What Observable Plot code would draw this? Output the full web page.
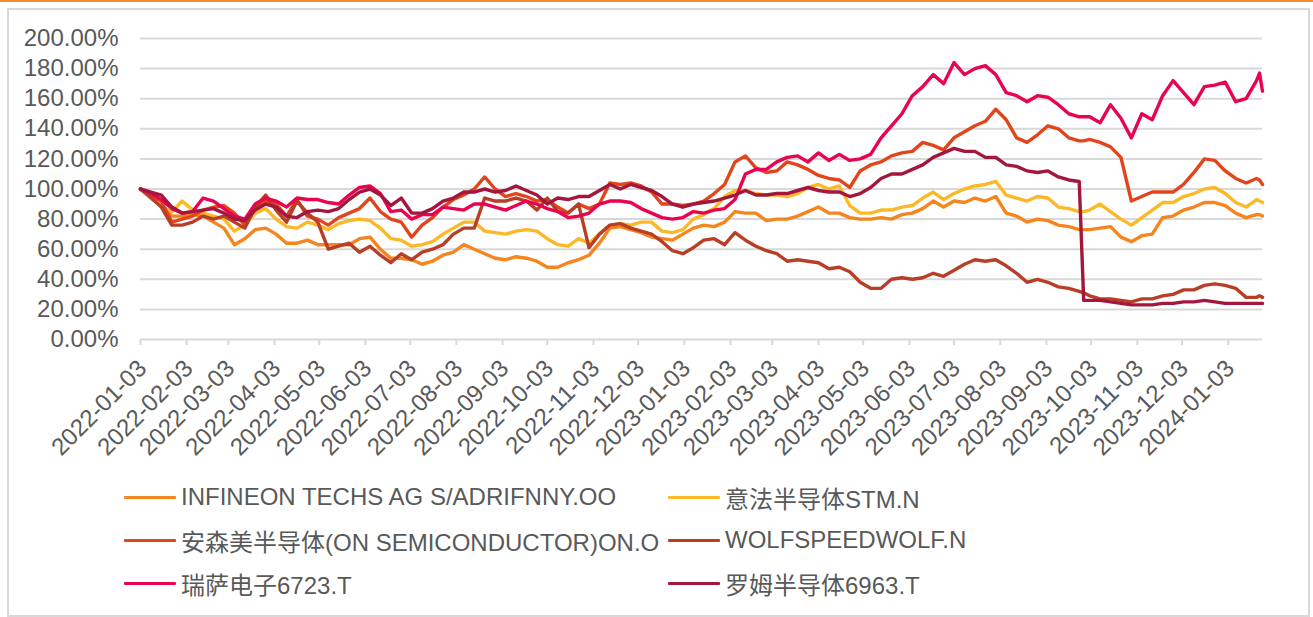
<!DOCTYPE html>
<html>
<head>
<meta charset="utf-8">
<script src="https://cdn.jsdelivr.net/npm/d3@7"></script>
<script src="https://cdn.jsdelivr.net/npm/@observablehq/plot@0.6"></script>
<style>
  html, body { margin: 0; padding: 0; background: #fff; }
  #wrap { position: relative; width: 1313px; height: 617px; overflow: hidden; background: #fff;
          font-family: "Liberation Sans", Arial, "Noto Sans CJK SC", sans-serif; }
  #topline { position: absolute; left: 0; top: 0; width: 1313px; height: 2px; background: #F08C2C; }
  #frame { position: absolute; left: 7px; top: 8px; width: 1299px; height: 605px; border: 2px solid #D9D9D9; box-sizing: content-box; }
  #chart { position: absolute; left: 0; top: 0; }
  .leg { position: absolute; height: 30px; display: flex; align-items: center; font-size: 24px; color: #595959; white-space: nowrap; }
  .leg .sw { width: 52px; height: 3px; margin-right: 5px; border-radius: 1px; }
</style>
</head>
<body>
<div id="wrap">
  <div id="topline"></div>
  <div id="frame"></div>
  <div id="chart"></div>
  <div id="legend"></div>
</div>
<script>
// ---- data ----
const seriesNames = [
  "INFINEON TECHS AG S/ADRIFNNY.OO",
  "意法半导体STM.N",
  "安森美半导体(ON SEMICONDUCTOR)ON.O",
  "WOLFSPEEDWOLF.N",
  "瑞萨电子6723.T",
  "罗姆半导体6963.T"
];
const seriesColors = ["#F5851F", "#FDB827", "#E2451C", "#B83E27", "#E8044F", "#A3173D"];

const dates = [
  "2022-01-03","2022-01-10","2022-01-17","2022-01-24","2022-01-31","2022-02-07","2022-02-14","2022-02-21","2022-02-28","2022-03-07","2022-03-14","2022-03-21","2022-03-28","2022-04-04","2022-04-11","2022-04-18","2022-04-25","2022-05-02",
  "2022-05-09","2022-05-16","2022-05-23","2022-05-30","2022-06-06","2022-06-13","2022-06-20","2022-06-27","2022-07-04","2022-07-11","2022-07-18","2022-07-25","2022-08-01","2022-08-08","2022-08-15","2022-08-22","2022-08-29","2022-09-05",
  "2022-09-12","2022-09-19","2022-09-26","2022-10-03","2022-10-10","2022-10-17","2022-10-24","2022-10-31","2022-11-07","2022-11-14","2022-11-21","2022-11-28","2022-12-05","2022-12-12","2022-12-19","2022-12-26","2023-01-02","2023-01-09",
  "2023-01-16","2023-01-23","2023-01-30","2023-02-06","2023-02-13","2023-02-20","2023-02-27","2023-03-06","2023-03-13","2023-03-20","2023-03-27","2023-04-03","2023-04-10","2023-04-17","2023-04-24","2023-05-01","2023-05-08","2023-05-15",
  "2023-05-22","2023-05-29","2023-06-05","2023-06-12","2023-06-19","2023-06-26","2023-07-03","2023-07-10","2023-07-17","2023-07-24","2023-07-31","2023-08-07","2023-08-14","2023-08-21","2023-08-28","2023-09-04","2023-09-11","2023-09-18","2023-09-25",
  "2023-09-28",
  "2023-10-02","2023-10-09","2023-10-16","2023-10-23","2023-10-30","2023-11-06","2023-11-13","2023-11-20","2023-11-27","2023-12-04","2023-12-11","2023-12-18","2023-12-25","2024-01-01","2024-01-08","2024-01-15","2024-01-22",
  "2024-01-24","2024-01-26"
];

const infineon = [
  100,95,90,82,82,83,82,78,74,63,67,73,74,70,64,64,66,63,
  63,63,63,67,68,60,54,54,53,50,52,56,58,63,60,57,54,53,
  55,54,52,48,48,51,53,56,64,74,75,73,71,68,67,66,70,74,
  76,75,78,85,84,84,79,80,80,82,85,88,84,84,81,80,80,81,
  80,83,84,87,92,88,92,91,94,92,95,84,82,78,80,79,76,75,73,
  73,
  73,74,75,68,65,69,70,81,82,86,88,91,91,89,84,81,83,
  83,82
];
const stm = [
  100,97,88,85,92,86,84,82,80,72,76,84,87,80,75,74,78,76,
  73,77,79,80,79,74,67,66,62,63,65,70,74,78,78,72,71,70,
  72,73,72,67,63,62,67,64,70,76,77,76,78,78,72,71,73,80,
  83,87,95,99,99,97,96,96,95,97,101,103,100,102,89,84,84,86,
  86,88,89,94,98,93,97,100,102,103,105,96,94,92,95,94,88,87,85,
  85,
  86,90,85,80,76,81,86,91,91,95,97,100,101,97,91,88,93,
  92,91
];
const onsemi = [
  100,95,92,78,80,82,86,88,89,84,76,88,92,90,82,93,82,80,
  76,81,84,87,94,85,80,78,68,76,81,88,93,96,100,108,100,95,
  97,95,92,93,88,84,90,87,90,104,103,104,102,98,90,90,89,90,
  92,97,103,118,122,114,111,112,118,116,113,109,107,106,101,112,116,118,
  122,124,125,131,129,126,134,138,142,145,153,146,134,131,136,142,140,134,132,
  132,
  133,131,128,121,92,95,98,98,98,103,111,120,119,112,107,104,107,
  106,103
];
const wolfspeed = [
  100,94,88,76,76,78,82,80,82,78,74,88,96,86,78,92,84,78,
  60,62,64,58,62,56,51,57,53,58,60,63,70,74,74,94,92,92,
  94,92,86,94,85,84,90,61,70,76,77,74,72,70,65,59,57,61,
  66,67,63,71,66,62,59,57,52,53,52,51,47,48,45,38,34,34,
  40,41,40,41,44,42,46,50,53,52,53,49,44,38,40,38,35,34,32,
  31,
  29,27,27,26,25,27,27,29,30,33,33,36,37,36,34,28,28,
  29,28
];
const renesas = [
  100,97,93,87,84,85,94,92,87,82,80,90,94,92,88,94,93,93,
  91,90,96,101,102,97,85,86,80,83,83,88,87,86,90,90,88,86,
  89,92,90,87,85,81,82,84,90,92,92,91,87,84,81,80,81,85,
  84,86,87,93,110,113,113,118,121,122,118,124,119,123,119,120,123,134,
  142,150,162,168,176,170,184,176,180,182,176,164,162,158,162,161,156,150,148,
  148,
  148,144,156,147,134,150,146,162,172,164,156,168,169,171,158,160,172,
  177,165
];
const rohm = [
  100,98,96,88,84,85,86,87,84,80,79,86,90,88,82,81,85,86,
  85,87,93,98,100,96,89,94,84,84,87,92,94,98,98,100,98,99,
  102,99,96,90,94,93,95,95,99,103,100,103,101,99,95,90,88,90,
  91,92,94,96,99,96,96,97,97,99,101,99,98,98,95,97,101,107,
  110,110,113,116,121,124,127,125,125,121,121,116,115,112,111,112,108,106,105,
  26,
  26,26,25,24,23,23,23,24,24,25,25,26,25,24,24,24,24,
  24,24
];

const yTicks = [0, 20, 40, 60, 80, 100, 120, 140, 160, 180, 200];
const xTickLabels = [
  "2022-01-03","2022-02-03","2022-03-03","2022-04-03","2022-05-03","2022-06-03","2022-07-03","2022-08-03","2022-09-03","2022-10-03","2022-11-03","2022-12-03",
  "2023-01-03","2023-02-03","2023-03-03","2023-04-03","2023-05-03","2023-06-03","2023-07-03","2023-08-03","2023-09-03","2023-10-03","2023-11-03","2023-12-03",
  "2024-01-03"
];

// ---- build table ----
const allSeries = [infineon, stm, onsemi, wolfspeed, renesas, rohm];
const rows = [];
allSeries.forEach((vals, si) => {
  vals.forEach((v, i) => rows.push({ series: seriesNames[si], date: new Date(dates[i]), value: v }));
});

const font = "'Liberation Sans', Arial, sans-serif";
const chart = Plot.plot({
  width: 1313,
  height: 470,
  marginLeft: 140,
  marginRight: 51,
  marginTop: 38,
  marginBottom: 131,
  style: { background: "transparent", fontFamily: font, color: "#595959", overflow: "visible" },
  x: { type: "utc", domain: [new Date(dates[0]), new Date(dates[dates.length - 1])], label: null },
  y: { domain: [0, 200], label: null },
  color: { domain: seriesNames, range: seriesColors },
  marks: [
    Plot.gridY(yTicks, { stroke: "#D9D9D9", strokeOpacity: 1, strokeWidth: 2 }),
    Plot.axisY(yTicks, { tickSize: 0, tickPadding: 22, fontSize: 24, fill: "#595959", label: null,
                         tickFormat: d => d.toFixed(2) + "%" }),
    Plot.axisX(xTickLabels.map(d => new Date(d)), { tickSize: 6, stroke: "#D9D9D9", strokeWidth: 2, strokeOpacity: 1,
                         tickFormat: () => "", label: null }),
    Plot.text(xTickLabels, { x: d => new Date(d), y: 0, text: d => d, rotate: -45, textAnchor: "end",
                             dx: 2, dy: 25, fontSize: 24, fill: "#595959" }),
    Plot.line(rows, { x: "date", y: "value", z: "series", stroke: "series", strokeWidth: 3.4,
                      strokeLinejoin: "round", strokeLinecap: "round" })
  ]
});
document.getElementById("chart").appendChild(chart);

// ---- legend ----
const legendPos = [
  [124, 482], [668, 482],
  [124, 525], [668, 525],
  [124, 568], [668, 568]
];
const legend = document.getElementById("legend");
seriesNames.forEach((name, i) => {
  const d = document.createElement("div");
  d.className = "leg";
  d.style.left = legendPos[i][0] + "px";
  d.style.top = legendPos[i][1] + "px";
  const sw = document.createElement("span");
  sw.className = "sw";
  sw.style.background = seriesColors[i];
  const t = document.createElement("span");
  t.textContent = name;
  d.appendChild(sw);
  d.appendChild(t);
  legend.appendChild(d);
});
</script>
</body>
</html>
